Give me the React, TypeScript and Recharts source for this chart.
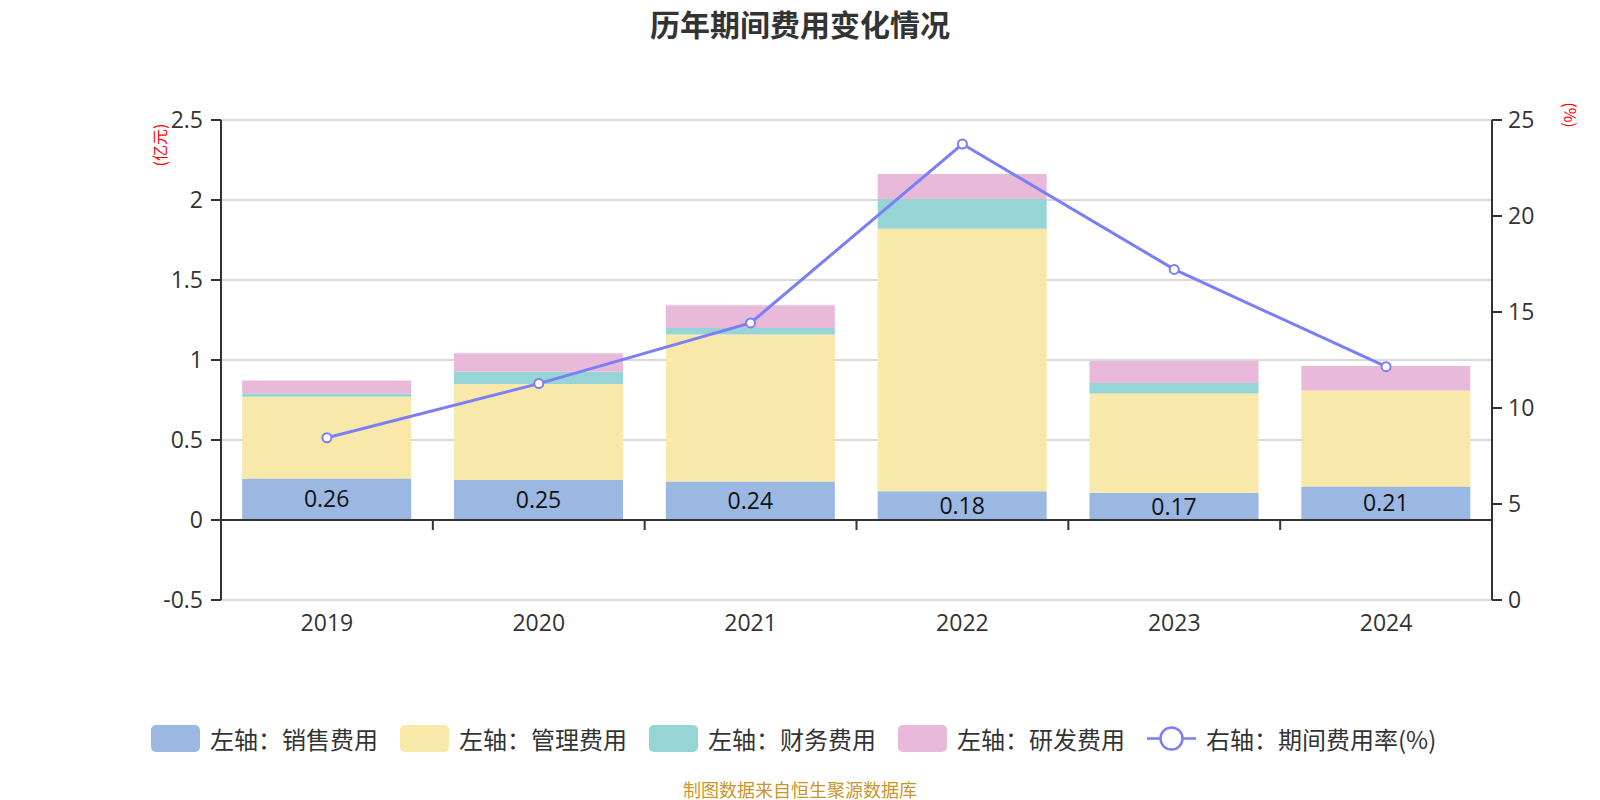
import React from "react";
import {
  ComposedChart,
  Bar,
  Line,
  XAxis,
  YAxis,
  CartesianGrid,
  ReferenceLine,
  LabelList,
} from "recharts";

const years = ["2019", "2020", "2021", "2022", "2023", "2024"];
const sales = [0.26, 0.25, 0.24, 0.18, 0.17, 0.21];
const admin = [0.51, 0.6, 0.92, 1.64, 0.62, 0.6];
const finance = [0.02, 0.077, 0.04, 0.187, 0.066, -0.005];
const rnd = [0.082, 0.115, 0.142, 0.155, 0.138, 0.152];
const rate = [8.45, 11.27, 14.43, 23.75, 17.22, 12.15];

const leftTicks = [-0.5, 0, 0.5, 1, 1.5, 2, 2.5];
const rightTicks = [0, 5, 10, 15, 20, 25];

const FONT = '"Noto Sans CJK SC", "Noto Sans", sans-serif';
const NUM_FONT = '"Open Sans", "Noto Sans CJK SC", sans-serif';
const COLORS = {
  sales: "#9bb8e2",
  admin: "#f8e8a9",
  finance: "#97d4d5",
  rnd: "#e8b9d8",
  rate: "#7a7ef7",
};

const data = years.map((year, i) => ({
  year,
  sales: sales[i],
  admin: admin[i],
  finance: finance[i],
  rnd: rnd[i],
  rate: rate[i],
}));

const legendItems = [
  { name: "左轴：销售费用", color: COLORS.sales, type: "rect" },
  { name: "左轴：管理费用", color: COLORS.admin, type: "rect" },
  { name: "左轴：财务费用", color: COLORS.finance, type: "rect" },
  { name: "左轴：研发费用", color: COLORS.rnd, type: "rect" },
  { name: "右轴：期间费用率(%)", color: COLORS.rate, type: "line" },
];

// zero line with the category boundary ticks hanging under it
function ZeroLine(props: any) {
  const { x1, x2, y1 } = props;
  const step = (x2 - x1) / years.length;
  const ticks = years.slice(1).map((_, i) => x1 + step * (i + 1));
  return (
    <g>
      <line x1={x1} x2={x2} y1={y1} y2={y1} stroke="#333" strokeWidth={2} />
      {ticks.map((x) => (
        <line key={x} x1={x} x2={x} y1={y1} y2={y1 + 10} stroke="#333" strokeWidth={2} />
      ))}
    </g>
  );
}

function LegendRow() {
  return (
    <div
      style={{
        position: "absolute",
        left: 151,
        top: 721,
        display: "flex",
        alignItems: "center",
        fontFamily: FONT,
        fontSize: 24,
        color: "#333",
        whiteSpace: "nowrap",
      }}
    >
      {legendItems.map((item) => (
        <div key={item.name} style={{ display: "flex", alignItems: "center", marginRight: 22 }}>
          {item.type === "rect" ? (
            <div style={{ width: 49, height: 27, borderRadius: 5, background: item.color }} />
          ) : (
            <svg width={49} height={27}>
              <line x1={0} x2={49} y1={13.5} y2={13.5} stroke={item.color} strokeWidth={2.5} />
              <circle cx={24.5} cy={13.5} r={11} fill="#fff" stroke={item.color} strokeWidth={2.5} />
            </svg>
          )}
          <span style={{ marginLeft: 10 }}>{item.name}</span>
        </div>
      ))}
    </div>
  );
}

export default function App() {
  return (
    <div style={{ position: "absolute", left: 0, top: 0, width: 1600, height: 800, background: "#fff" }}>
      <div
        style={{
          position: "absolute",
          top: 1,
          width: 1600,
          textAlign: "center",
          fontFamily: FONT,
          fontWeight: "bold",
          fontSize: 30,
          color: "#333",
        }}
      >
        历年期间费用变化情况
      </div>
      <div
        style={{
          position: "absolute",
          left: 159,
          top: 145,
          transform: "translate(-50%, -50%) rotate(-90deg)",
          fontFamily: FONT,
          fontSize: 16,
          color: "#f00",
          whiteSpace: "nowrap",
        }}
      >
        (亿元)
      </div>
      <div
        style={{
          position: "absolute",
          left: 1571,
          top: 115,
          transform: "translate(-50%, -50%) rotate(90deg)",
          fontFamily: FONT,
          fontSize: 16,
          color: "#f00",
          whiteSpace: "nowrap",
        }}
      >
        (%)
      </div>
      <ComposedChart
        width={1600}
        height={800}
        data={data}
        stackOffset="sign"
        barCategoryGap="10%"
        margin={{ top: 120, right: 0, bottom: 140, left: 0 }}
        style={{ fontFamily: NUM_FONT }}
      >
        <CartesianGrid yAxisId="left" vertical={false} stroke="#cccccc" strokeWidth={1.5} />
        <XAxis
          dataKey="year"
          axisLine={false}
          tickLine={false}
          height={60}
          tickMargin={9}
          tick={{ fill: "#333", fontSize: 23, fontFamily: NUM_FONT }}
        />
        <YAxis
          yAxisId="left"
          domain={[-0.5, 2.5]}
          ticks={leftTicks}
          width={221}
          axisLine={{ stroke: "#333", strokeWidth: 2 }}
          tickLine={{ stroke: "#333", strokeWidth: 2 }}
          tickSize={10}
          tickMargin={8}
          tick={{ fill: "#333", fontSize: 23, fontFamily: NUM_FONT }}
          interval={0}
        />
        <YAxis
          yAxisId="right"
          orientation="right"
          domain={[0, 25]}
          ticks={rightTicks}
          width={108}
          axisLine={{ stroke: "#333", strokeWidth: 2 }}
          tickLine={{ stroke: "#333", strokeWidth: 2 }}
          tickSize={10}
          tickMargin={6}
          tick={{ fill: "#333", fontSize: 23, fontFamily: NUM_FONT }}
          interval={0}
        />
        <Bar yAxisId="left" dataKey="sales" stackId="cost" fill={COLORS.sales} isAnimationActive={false}>
          <LabelList
            dataKey="sales"
            position="center"
            fill="#111"
            fontSize={23}
            fontFamily={NUM_FONT}
            formatter={(v: any) => Number(v).toFixed(2)}
          />
        </Bar>
        <Bar yAxisId="left" dataKey="admin" stackId="cost" fill={COLORS.admin} isAnimationActive={false} />
        <Bar yAxisId="left" dataKey="finance" stackId="cost" fill={COLORS.finance} isAnimationActive={false} />
        <Bar yAxisId="left" dataKey="rnd" stackId="cost" fill={COLORS.rnd} isAnimationActive={false} />
        <ReferenceLine yAxisId="left" y={0} shape={ZeroLine} />
        <Line
          yAxisId="right"
          type="linear"
          dataKey="rate"
          stroke={COLORS.rate}
          strokeWidth={3}
          dot={{ r: 4.5, fill: "#fff", stroke: COLORS.rate, strokeWidth: 2 }}
          activeDot={false}
          isAnimationActive={false}
        />
      </ComposedChart>
      <LegendRow />
      <div
        style={{
          position: "absolute",
          top: 776,
          width: 1600,
          textAlign: "center",
          fontFamily: FONT,
          fontSize: 18,
          color: "#c8962e",
        }}
      >
        制图数据来自恒生聚源数据库
      </div>
    </div>
  );
}
